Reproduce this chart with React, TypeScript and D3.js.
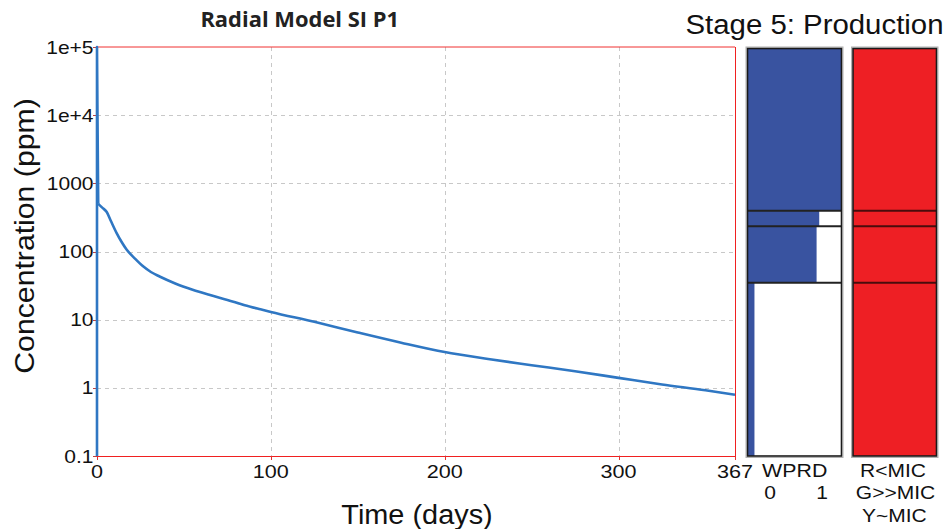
import React from "react";
import * as d3 from "d3";

// ---- data ----
const timeDays = [0, 0, 0.3, 0.7, 3, 5.6, 8, 11.3, 14, 17, 22, 26.7, 31, 36, 45, 55, 65, 75, 85, 94, 100, 125, 150, 175, 200, 225, 250, 275, 300, 325, 350, 367];
const concPpm = [0.05, 100000, 8500, 500, 440, 380, 280, 186, 140, 107, 78, 60, 50, 43, 34, 27.5, 23, 19.5, 16.3, 14.2, 13, 9.3, 6.5, 4.6, 3.35, 2.65, 2.15, 1.75, 1.4, 1.12, 0.92, 0.79];

const xTicks = [0, 100, 200, 300, 367];
const yTicks = [0.1, 1, 10, 100, 1000, 10000, 100000];
const yTickLabels = ["0.1", "1", "10", "100", "1000", "1e+4", "1e+5"];

// layers of the well zone (fraction of zone height, top to bottom)
const layerThickness = [0.398, 0.038, 0.139, 0.425];
const layerWPRD = [1, 0.763, 0.735, 0.074];
const layerMicColor = ["#ee1f24", "#ee1f24", "#ee1f24", "#ee1f24"];

const title = "Radial Model SI P1";
const stageTitle = "Stage 5: Production";
const xTitle = "Time (days)";
const yTitle = "Concentration (ppm)";

const FONT = "'Liberation Sans', Arial, sans-serif";

function T(props: { x: number; y: number; sx?: number; size: number; anchor?: string; children: any; weight?: any; family?: string; fill?: string; rotate?: number }) {
  const { x, y, sx = 1, size, anchor = "middle", children, weight = "normal", family = FONT, fill = "#111", rotate = 0 } = props;
  return (
    <text
      transform={`translate(${x},${y}) rotate(${rotate}) scale(${sx},1)`}
      fontSize={size}
      fontFamily={family}
      fontWeight={weight}
      textAnchor={anchor}
      fill={fill}
    >
      {children}
    </text>
  );
}

export default function App() {
  const W = 946, H = 529;
  const left = 97, right = 735, top = 47, bottom = 456;
  const x = d3.scaleLinear().domain([0, 367]).range([left, right]);
  const y = d3.scaleLog().domain([0.1, 100000]).range([bottom, top]).clamp(true);

  const pts = timeDays.map((t, i) => [t, concPpm[i]] as [number, number]);
  const spike = pts.slice(0, 4);
  const decay = pts.slice(3);
  const lineLin = d3.line<[number, number]>().x(d => x(d[0])).y(d => y(d[1]));
  const lineSmooth = d3.line<[number, number]>().x(d => x(d[0])).y(d => y(d[1])).curve(d3.curveMonotoneX);

  // well panels
  const p1L = 747.5, p1R = 841.5, pT = 48.5, pB = 456;
  const p2L = 853, p2R = 936.5;
  const depth = d3.scaleLinear().domain([0, 1]).range([pT, pB]);
  const wx = d3.scaleLinear().domain([0, 1]).range([p1L, p1R]);
  const bounds: number[] = [0];
  layerThickness.forEach((t, i) => bounds.push(bounds[i] + t));

  const tickSx = 1.2;

  return (
    <svg width={W} height={H} style={{ position: "absolute", left: 0, top: 0, background: "#fff" }}>
      <rect x={0} y={0} width={W} height={H} fill="#fff" />
      {/* titles */}
      <T x={299.7} y={26.5} size={21.5} sx={1.02} weight={700} family="'Open Sans', sans-serif" fill="#222">{title}</T>
      <T x={943.5} y={34.3} size={28} sx={1.05} anchor="end">{stageTitle}</T>

      {/* grid */}
      {yTicks.slice(1, -1).map(v => (
        <line key={"gy" + v} x1={left} x2={right} y1={Math.round(y(v)) + 0.5} y2={Math.round(y(v)) + 0.5} stroke="#c8c8c8" strokeDasharray="4,4" />
      ))}
      {xTicks.slice(1, -1).map(v => (
        <line key={"gx" + v} x1={Math.round(x(v)) + 0.5} x2={Math.round(x(v)) + 0.5} y1={top} y2={bottom} stroke="#c8c8c8" strokeDasharray="4,4" />
      ))}

      {/* plot border */}
      <line x1={left} x2={right} y1={top} y2={top} stroke="#f03030" strokeWidth={1} />
      <line x1={left} x2={right + 0.5} y1={bottom + 0.5} y2={bottom + 0.5} stroke="#f02020" strokeWidth={1} />
      <line x1={right + 0.5} x2={right + 0.5} y1={top} y2={bottom + 4} stroke="#f02020" strokeWidth={1} />

      {/* ticks */}
      {yTicks.map(v => (
        <line key={"ty" + v} x1={left - 4} x2={left} y1={Math.round(y(v)) + 0.5} y2={Math.round(y(v)) + 0.5} stroke="#c04040" />
      ))}
      {xTicks.map(v => (
        <line key={"tx" + v} x1={Math.round(x(v)) + 0.5} x2={Math.round(x(v)) + 0.5} y1={bottom} y2={bottom + 4} stroke="#e03030" />
      ))}

      {/* data line */}
      <path d={lineLin(spike) || ""} fill="none" stroke="#2f77c3" strokeWidth={2.6} strokeLinejoin="round" />
      <path d={lineSmooth(decay) || ""} fill="none" stroke="#2f77c3" strokeWidth={2.6} strokeLinejoin="round" />

      {/* tick labels */}
      {yTicks.map((v, i) => (
        <T key={"ly" + v} x={93.5} y={y(v) + 6.5} size={17.5} sx={tickSx} anchor="end">{yTickLabels[i]}</T>
      ))}
      {xTicks.map(v => (
        <T key={"lx" + v} x={x(v)} y={478} size={18} sx={tickSx}>{String(v)}</T>
      ))}

      {/* axis titles */}
      <T x={417} y={524} size={27} sx={1.07}>{xTitle}</T>
      <T x={34} y={236} size={28} sx={1.08} rotate={-90}>{yTitle}</T>

      {/* WPRD panel */}
      <rect x={p1L - 1.5} y={pT - 1.5} width={p1R - p1L + 3} height={pB - pT + 3} fill="none" stroke="#b0b0b0" strokeWidth={1} />
      <rect x={p1L} y={pT} width={p1R - p1L} height={pB - pT} fill="#fff" />
      {layerWPRD.map((w, i) => (
        <rect key={"wb" + i} x={wx(0)} y={depth(bounds[i])} width={wx(w) - wx(0)} height={depth(bounds[i + 1]) - depth(bounds[i])} fill="#3953a0" />
      ))}
      {bounds.slice(1, -1).map((b, i) => (
        <line key={"wd" + i} x1={p1L} x2={p1R} y1={depth(b)} y2={depth(b)} stroke="#222" strokeWidth={2} />
      ))}
      <rect x={p1L} y={pT} width={p1R - p1L} height={pB - pT} fill="none" stroke="#1a1a1a" strokeWidth={1.6} />

      {/* MIC panel */}
      <rect x={p2L - 1.5} y={pT - 1.5} width={p2R - p2L + 3} height={pB - pT + 3} fill="none" stroke="#b0b0b0" strokeWidth={1} />
      {layerMicColor.map((c, i) => (
        <rect key={"mb" + i} x={p2L} y={depth(bounds[i])} width={p2R - p2L} height={depth(bounds[i + 1]) - depth(bounds[i])} fill={c} />
      ))}
      {bounds.slice(1, -1).map((b, i) => (
        <line key={"md" + i} x1={p2L} x2={p2R} y1={depth(b)} y2={depth(b)} stroke="#4a0c0c" strokeWidth={2} />
      ))}
      <rect x={p2L} y={pT} width={p2R - p2L} height={pB - pT} fill="none" stroke="#1a1a1a" strokeWidth={1.6} />

      {/* panel labels */}
      <T x={794.7} y={476.7} size={17.5} sx={1.22}>WPRD</T>
      <T x={770} y={499} size={17.5} sx={1.2}>0</T>
      <T x={822} y={499} size={17.5} sx={1.2}>1</T>
      <T x={893} y={476.7} size={17.5} sx={1.2}>R&lt;MIC</T>
      <T x={895.5} y={499.3} size={17.5} sx={1.2}>G&gt;&gt;MIC</T>
      <T x={894.3} y={521.7} size={17.5} sx={1.2}>Y~MIC</T>
    </svg>
  );
}
